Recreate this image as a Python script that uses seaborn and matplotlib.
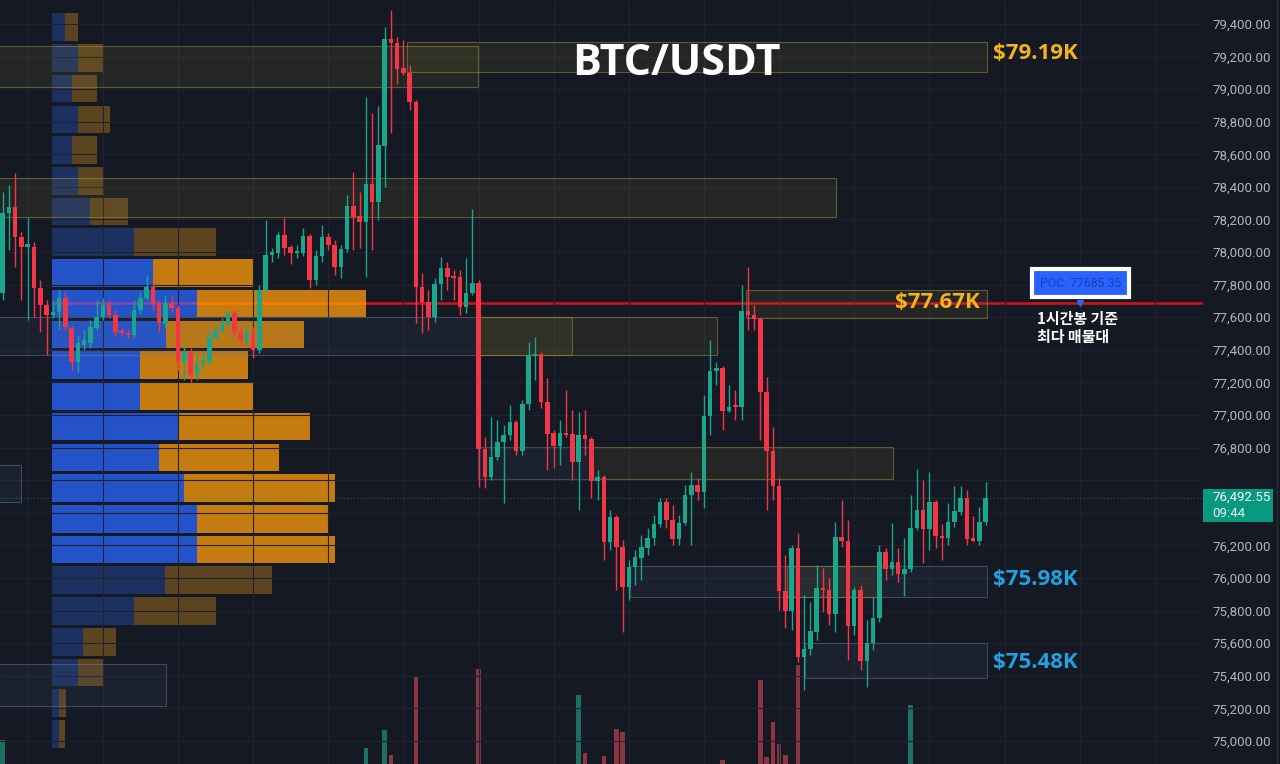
import numpy as np
import pandas as pd
import matplotlib.pyplot as plt
from matplotlib.patches import Rectangle
from matplotlib.ticker import FuncFormatter
import seaborn as sns

# --- BTC/USDT 1h candles (oldest -> newest) ---
opens = [
    77749, 78240, 78277, 78092, 78031, 78031, 77780, 77675, 77614, 77632,
    77718, 77534, 77325, 77430, 77442, 77534, 77602, 77675, 77614, 77510,
    77503, 77491, 77645, 77718, 77786, 77681, 77559, 77688, 77657, 77325,
    77387, 77246, 77319, 77325, 77473, 77522, 77559, 77626, 77503, 77454,
    77503, 77399, 77767, 77982, 77994, 78105, 78031, 77994, 77994, 78099,
    77829, 77976, 78093, 78043, 77908, 78019, 78283, 78221, 78185, 78418,
    78307, 78651, 79308, 79283, 79130, 79099, 78921, 77786, 77694, 77602,
    77804, 77902, 77853, 77847, 77663, 77749, 77810, 76792, 76620, 76742,
    76834, 76877, 76957, 76779, 77068, 77362, 77375, 77080, 76890, 76810,
    76890, 76884, 76712, 76877, 76853, 76595, 76620, 76221, 76374, 76190,
    75945, 76067, 76123, 76184, 76245, 76331, 76466, 76356, 76239, 76337,
    76509, 76571, 76528, 76994, 77270, 77289, 77025, 77055, 77049, 77638,
    77614, 77589, 77141, 76779, 76564, 75920, 75797, 76184, 75515, 75564,
    75669, 75938, 75926, 75779, 76251, 76227, 75705, 75926, 75490, 75601,
    75754, 76159, 76055, 76098, 76024, 76055, 76307, 76417, 76301, 76466,
    76258, 76245, 76343, 76405, 76491, 76245, 76227, 76343]
highs = [
    78369, 78412, 78485, 78123, 78215, 78062, 77829, 77706, 77706, 77767,
    77755, 77546, 77491, 77522, 77583, 77706, 77718, 77706, 77645, 77534,
    77522, 77706, 77755, 77859, 77810, 77706, 77737, 77730, 77675, 77430,
    77411, 77368, 77368, 77522, 77553, 77595, 77645, 77645, 77553, 77553,
    77540, 77798, 78197, 78025, 78123, 78209, 78043, 78043, 78148, 78111,
    78013, 78166, 78117, 78074, 78043, 78350, 78491, 78369, 78952, 78854,
    78897, 79381, 79486, 79320, 79302, 79148, 78933, 77872, 77767, 77841,
    77970, 77939, 77890, 77890, 77964, 78264, 77829, 76865, 76988, 76970,
    76939, 77062, 76970, 77092, 77448, 77479, 77387, 77227, 76908, 76970,
    77154, 77031, 77019, 77031, 76865, 76663, 76632, 76417, 76386, 76233,
    76110, 76172, 76264, 76307, 76386, 76491, 76491, 76448, 76386, 76571,
    76650, 76614, 77123, 77460, 77325, 77301, 77184, 77154, 77798, 77908,
    77675, 77602, 77233, 76926, 76614, 76141, 76202, 76276, 75896, 75853,
    76080, 76061, 76000, 76344, 76479, 76356, 75945, 75957, 75742, 75883,
    76202, 76184, 76337, 76184, 76245, 76509, 76669, 76601, 76650, 76479,
    76331, 76460, 76564, 76564, 76540, 76380, 76436, 76589]
lows = [
    77706, 78013, 77908, 77706, 77583, 77602, 77510, 77368, 77595, 77522,
    77522, 77276, 77264, 77399, 77411, 77522, 77583, 77595, 77485, 77485,
    77473, 77473, 77620, 77706, 77645, 77510, 77534, 77632, 77276, 77215,
    77203, 77215, 77276, 77307, 77461, 77503, 77546, 77485, 77430, 77430,
    77350, 77381, 77755, 77939, 77964, 77982, 77927, 77964, 77976, 77780,
    77798, 77939, 78013, 77859, 77841, 78000, 78013, 78025, 77847, 78013,
    78197, 78399, 78731, 79032, 79087, 78872, 77565, 77503, 77522, 77571,
    77706, 77767, 77706, 77614, 77626, 77737, 76558, 76552, 76601, 76724,
    76460, 76847, 76755, 76755, 77031, 77215, 77043, 76663, 76675, 76693,
    76865, 76601, 76417, 76755, 76491, 76479, 76110, 76172, 75926, 75668,
    75865, 75957, 75988, 76141, 76202, 76313, 76307, 76202, 76202, 76325,
    76202, 76479, 76429, 76877, 77184, 76908, 77019, 76970, 76970, 77522,
    77522, 76847, 76417, 76479, 75804, 75693, 75681, 75484, 75313, 75527,
    75619, 75791, 75711, 75668, 76190, 75497, 75650, 75436, 75331, 75558,
    75730, 75988, 76018, 75975, 75889, 76037, 76294, 76092, 76172, 76184,
    76110, 76202, 76313, 76386, 76202, 76221, 76202, 76325]
closes = [
    78240, 78277, 78092, 78031, 78050, 77780, 77675, 77614, 77632, 77718,
    77540, 77325, 77442, 77460, 77540, 77602, 77675, 77614, 77510, 77503,
    77491, 77645, 77718, 77786, 77681, 77565, 77688, 77657, 77325, 77387,
    77246, 77319, 77338, 77479, 77522, 77559, 77626, 77510, 77460, 77510,
    77399, 77767, 77982, 78000, 78105, 78025, 77994, 78007, 78099, 77829,
    77976, 78093, 78043, 77908, 78019, 78283, 78215, 78185, 78418, 78307,
    78657, 79308, 79283, 79124, 79099, 78921, 77786, 77694, 77602, 77804,
    77902, 77847, 77841, 77663, 77749, 77810, 76792, 76620, 76742, 76834,
    76877, 76957, 76779, 77068, 77368, 77375, 77080, 76884, 76810, 76890,
    76877, 76712, 76877, 76853, 76595, 76620, 76221, 76374, 76190, 75945,
    76067, 76129, 76190, 76245, 76331, 76466, 76356, 76239, 76337, 76509,
    76571, 76528, 76994, 77270, 77289, 77025, 77049, 77049, 77638, 77614,
    77589, 77141, 76779, 76564, 75920, 75797, 76184, 75515, 75564, 75675,
    75938, 75926, 75779, 76251, 76227, 75705, 75926, 75490, 75601, 75754,
    76159, 76055, 76098, 76024, 76055, 76307, 76417, 76301, 76466, 76258,
    76245, 76343, 76411, 76491, 76239, 76227, 76343, 76492.55]
volumes = [
    625, 420, 510, 380, 350, 470, 390, 430, 260, 310,
    360, 440, 330, 240, 270, 250, 230, 220, 280, 190,
    170, 290, 260, 250, 230, 270, 280, 210, 450, 300,
    340, 260, 210, 330, 240, 220, 250, 300, 230, 240,
    280, 520, 480, 220, 310, 290, 230, 180, 270, 430,
    330, 310, 240, 320, 280, 470, 390, 280, 617, 540,
    560, 636, 609, 480, 330, 420, 691, 530, 430, 390,
    340, 300, 260, 350, 300, 410, 699, 560, 390, 300,
    280, 260, 320, 380, 520, 360, 480, 450, 310, 300,
    290, 380, 672, 612, 480, 310, 608, 420, 637, 634,
    420, 330, 300, 260, 310, 380, 300, 330, 280, 360,
    310, 250, 520, 470, 280, 604, 240, 220, 560, 430,
    330, 688, 607, 644, 621, 609, 530, 704, 580, 390,
    440, 280, 330, 520, 300, 560, 390, 520, 450, 340,
    480, 300, 260, 280, 240, 662, 420, 380, 360, 340,
    250, 290, 260, 240, 380, 210, 290, 330]

# --- volume profile (price rows, buy / sell volume) ---
vp_prices = [79380, 79191, 79003, 78814, 78626, 78437, 78249, 78060,
             77872, 77683, 77494, 77306, 77117, 76929, 76740, 76551,
             76363, 76174, 75986, 75797, 75608, 75420, 75231, 75043]
vp_buy = [130, 260, 200, 260, 200, 260, 380, 820, 1010, 1450, 1140, 880,
          880, 1260, 1070, 1320, 1450, 1450, 1130, 820, 310, 260, 70, 70]
vp_sell = [130, 260, 250, 320, 250, 260, 380, 820, 1010, 1690, 1380, 1080,
           1140, 1320, 1200, 1510, 1320, 1380, 1070, 820, 330, 260, 70, 60]
value_area = (8, 17)
poc = 77685.35

# --- key levels drawn on the chart: (start bar, end bar, low, high, kind) ---
zones = [
    (-1, 75.9, 79013, 79265, "supply"),
    (64.5, 157.2, 79105, 79289, "supply"),
    (-1, 133.1, 78215, 78455, "supply"),
    (-1, 75.9, 77368, 77602, "demand"),
    (75.9, 90.9, 77368, 77602, "supply"),
    (75.9, 114.1, 77368, 77602, "supply"),
    (118.7, 157.2, 77596, 77767, "supply"),
    (75.9, 94.1, 76608, 76804, "demand"),
    (94.1, 142.2, 76608, 76804, "supply"),
    (100.2, 157.2, 75883, 76074, "demand"),
    (125.3, 140.2, 75883, 76074, "supply"),
    (128.2, 157.2, 75384, 75601, "demand"),
    (-1, 26.1, 75216, 75472, "demand"),
    (-1, 2.9, 76466, 76693, "demand"),
]
level_labels = ["$79.19K", "$77.67K", "$75.98K", "$75.48K"]
level_prices = [79216, 77688, 75988, 75484]
price_ticks = list(range(75000, 79401, 200))

BG = "#151924"
GREEN = "#1aa68a"
RED = "#f23645"
GOLD = "#f5b31a"
SKY = "#22a0e0"

sns.set_theme(style="dark", rc={"axes.facecolor": BG, "figure.facecolor": BG,
                                "text.color": "white"})
plt.rcParams["font.family"] = ["Roboto", "Noto Sans CJK KR", "DejaVu Sans"]

df = pd.DataFrame({"open": opens, "high": highs, "low": lows,
                   "close": closes, "volume": volumes})
df["t"] = np.arange(len(df))
up = df["close"] >= df["open"]
last = closes[-1]

fig = plt.figure(figsize=(12.8, 7.64), dpi=100)
pos = [0, 0, 1203 / 1280, 1]
ax_vol = fig.add_axes(pos, zorder=0)
ax_vp = fig.add_axes(pos, zorder=1)
ax = fig.add_axes(pos, zorder=2)

xlim = (-0.43, 191.7)
ylim = (74858, 79547)

# volume bars (base sits below the visible window)
ax_vol.bar(df["t"], df["volume"], width=0.72, linewidth=0,
           color=np.where(up, "#1d6e63", "#8a3541"))
ax_vol.set_xlim(xlim)
ax_vol.set_ylim(600, 1400)
ax_vol.axis("off")

# volume profile
buy_c = ["#2453c9" if value_area[0] <= i <= value_area[1] else "#1d3161"
         for i in range(len(vp_prices))]
sell_c = ["#c57b0f" if value_area[0] <= i <= value_area[1] else "#5c4420"
          for i in range(len(vp_prices))]
ax_vp.barh(vp_prices, vp_buy, height=170, color=buy_c, linewidth=0)
ax_vp.barh(vp_prices, vp_sell, left=vp_buy, height=170, color=sell_c, linewidth=0)
ipoc = 9
ax_vp.hlines(poc, 0, vp_buy[ipoc], color="#8b4aa6", lw=1.8)
ax_vp.hlines(poc, vp_buy[ipoc], vp_buy[ipoc] + vp_sell[ipoc], color="#ff7a00", lw=1.8)
ax_vp.hlines(poc, vp_buy[ipoc] + vp_sell[ipoc], 11510, color="#d3121f", lw=1.8)
ax_vp.set_xlim(-520, 11510)
ax_vp.set_ylim(ylim)
ax_vp.axis("off")

# main price pane
ax.set_facecolor("none")
for s in ax.spines.values():
    s.set_visible(False)
ax.set_xlim(xlim)
ax.set_ylim(ylim)
ax.set_yticks(price_ticks)
ax.set_xticks(range(4, 192, 12))
ax.yaxis.tick_right()
# the tick hidden behind the last-price tag is left blank
ax.yaxis.set_major_formatter(
    FuncFormatter(lambda v, _: "" if abs(v - last) < 120 else f"{v:,.2f}"))
ax.tick_params(axis="y", length=0, pad=6.5, labelcolor="#b2b5be", labelsize=9.5)
ax.tick_params(axis="x", length=0, labelbottom=False)
ax.grid(True, color="#1f2330", lw=0.8)
ax.set_axisbelow(True)

for x0, x1, lo, hi, kind in zones:
    if kind == "supply":
        fc, ec = (0.55, 0.50, 0.20, 0.13), (0.60, 0.55, 0.22, 0.55)
    else:
        fc, ec = (0.30, 0.40, 0.55, 0.11), (0.45, 0.55, 0.65, 0.40)
    ax.add_patch(Rectangle((x0, lo), x1 - x0, hi - lo, facecolor=fc,
                           edgecolor=ec, lw=0.8, zorder=2))

colors = np.where(up, GREEN, RED)
ax.vlines(df["t"], df["low"], df["high"], colors=colors, lw=1, zorder=3)
body_lo = np.minimum(df["open"], df["close"])
body_h = np.maximum((df["close"] - df["open"]).abs(), 10)
ax.bar(df["t"], body_h, bottom=body_lo, width=0.72, color=colors,
       linewidth=0, zorder=4)

# last price marker on the scale
ax.axhline(last, color=GREEN, ls=(0, (1, 2)), lw=0.8, alpha=0.5, zorder=1)
yt = ax.get_yaxis_transform()
ax.add_patch(Rectangle((1.0, last - 148), 70 / 1203, 202, transform=yt,
                       facecolor="#089981", edgecolor="none", clip_on=False, zorder=8))
ax.text(1.0 + 9 / 1203, last, f"{last:,.2f}", transform=yt, ha="left",
        va="center", fontsize=9.5, color="white", zorder=9)
ax.text(1.0 + 9 / 1203, last - 100, "09:44", transform=yt, ha="left",
        va="center", fontsize=9.5, color="#e6f4f1", zorder=9)

# annotations
ax.text(107.6, 79155, "BTC/USDT", ha="center", va="center", fontsize=31,
        fontweight="bold", family="Open Sans", color="white", zorder=6)
for lab, p in zip(level_labels, level_prices):
    col = GOLD if p > 77000 else SKY
    if lab == "$77.67K":
        ax.text(156.1, p, lab, ha="right", va="center", fontsize=16,
                fontweight="bold", family="Open Sans", color=col, zorder=6)
    else:
        ax.text(158.2, p, lab, ha="left", va="center", fontsize=16,
                fontweight="bold", family="Open Sans", color=col, zorder=6)

ax.text(172.1, 77810, f"POC: {poc}", ha="center", va="center", fontsize=8.8,
        color="#1c3fae", zorder=7,
        bbox=dict(boxstyle="square,pad=0.62", facecolor="#2962ff",
                  edgecolor="white", linewidth=3))
ax.plot(172.1, poc, marker="v", ms=4, color="#2962ff", zorder=7)
ax.text(165.2, 77537, "1시간봉 기준\n최다 매물대", ha="left", va="center",
        fontsize=10.8, fontweight="bold", family=["Noto Sans CJK KR", "DejaVu Sans"],
        color="white", linespacing=1.15, zorder=7)

fig.add_artist(plt.Line2D([1277 / 1280] * 2, [0, 1], color="#2a2e39", lw=1))

fig.savefig("out.png", dpi=100, facecolor=BG)
